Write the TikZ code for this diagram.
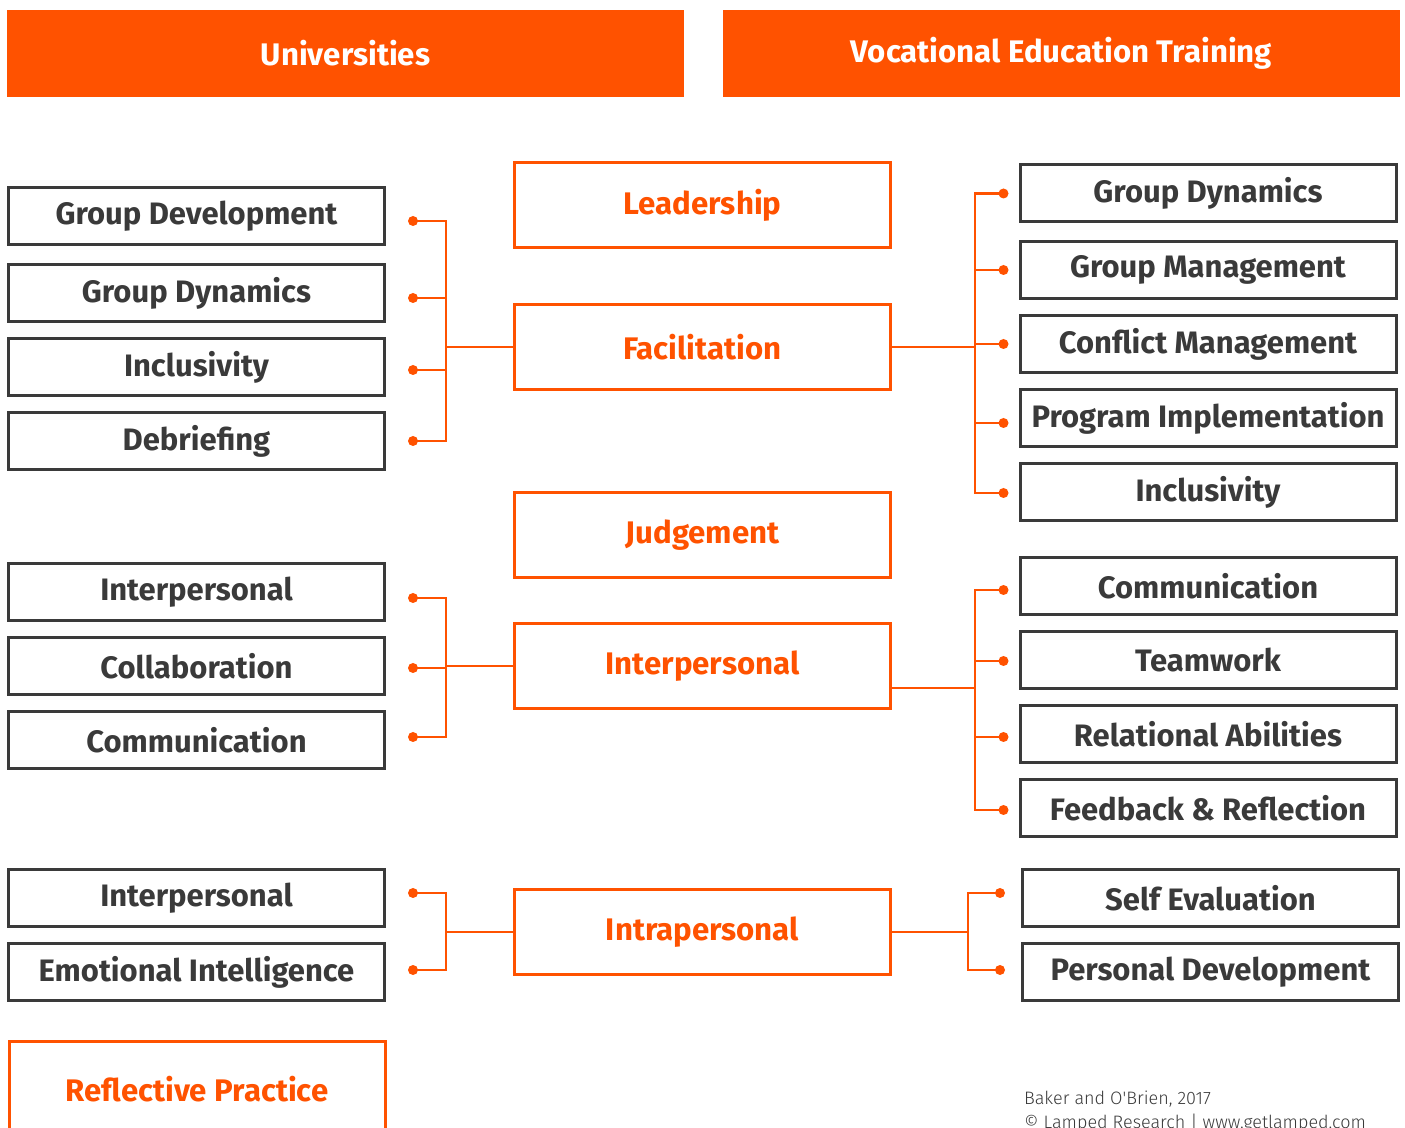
\documentclass[tikz,border=0pt]{standalone}
\usepackage{fontspec}
\setmainfont{Fira Sans}
\newfontfamily\ligera{Fira Sans Light}
\usepackage{tikz}
\definecolor{naranja}{HTML}{FF5200}
\definecolor{gris}{HTML}{3A3A3A}

\begin{document}
\begin{tikzpicture}[x=0.5pt, y=-0.5pt,
  cabecera/.style={fill=naranja, text=white, minimum width=338.5pt, minimum height=43.5pt,
    font=\bfseries\fontsize{15.6}{18}\selectfont},
  caja/.style={draw=gris, line width=1.5pt, text=gris, minimum width=188pt, minimum height=28.5pt,
    font=\bfseries\fontsize{15.5}{18}\selectfont},
  centro/.style={draw=naranja, line width=1.5pt, text=naranja, minimum width=188pt, minimum height=42.5pt,
    font=\bfseries\fontsize{15.6}{18}\selectfont},
  linea/.style={draw=naranja, line width=1.2pt},
  punto/.style={fill=naranja}]

  % Marco
  \useasboundingbox (0,0) rectangle (1405,1128);
  \clip (0,0) rectangle (1405,1128);

  % Cabeceras
  \node[cabecera] (univ) at (345.5,53.5) {Universities};
  \node[cabecera] (vet) at (1061.5,53.5) {Vocational Education Training};

  % Columna central
  \node[centro] (lider) at (702.5,205.5) {Leadership};
  \node[centro] (facil) at (702.5,347) {Facilitation};
  \node[centro] (juicio) at (702.5,535) {Judgement};
  \node[centro] (inter) at (702.5,666) {Interpersonal};
  \node[centro] (intra) at (702.5,932) {Intrapersonal};

  % Universidades
  \node[caja] (u1) at (196.5,216) {Group Development};
  \node[caja] (u2) at (196.5,293) {Group Dynamics};
  \node[caja] (u3) at (196.5,367) {Inclusivity};
  \node[caja] (u4) at (196.5,441) {Debriefing};
  \node[caja] (u5) at (196.5,592) {Interpersonal};
  \node[caja] (u6) at (196.5,666) {Collaboration};
  \node[caja] (u7) at (196.5,740) {Communication};
  \node[caja] (u8) at (196.5,898) {Interpersonal};
  \node[caja] (u9) at (196.5,972) {Emotional Intelligence};
  \node[centro, minimum height=48pt] (refl) at (197,1089) {Reflective Practice};

  % Formacion profesional
  \node[caja] (v1) at (1208,193.5) {Group Dynamics};
  \node[caja] (v2) at (1208,270) {Group Management};
  \node[caja] (v3) at (1208,344) {Conflict Management};
  \node[caja] (v4) at (1208,418) {Program Implementation};
  \node[caja] (v5) at (1208,492) {Inclusivity};
  \node[caja] (v6) at (1208,586) {Communication};
  \node[caja] (v7) at (1208,660) {Teamwork};
  \node[caja] (v8) at (1208,734) {Relational Abilities};
  \node[caja] (v9) at (1208,808) {Feedback \& Reflection};
  \node[caja] (v10) at (1210.5,898) {Self Evaluation};
  \node[caja] (v11) at (1210.5,972) {Personal Development};

  % Puntos de los conectores
  \foreach \n/\dy in {1/-2.5,2/-2.5,3/-1.5,4/0,5/-3,6/-1,7/1.5,8/2.5,9/1}
    \coordinate (pu\n) at ([xshift=13.5pt, yshift=\dy pt]u\n.east);
  \foreach \n/\dy in {1/0,2/0,3/0,4/-2.5,5/-0.5,6/-2,7/-0.5,8/-1.5,9/-1}
    \coordinate (pv\n) at ([xshift=-7.5pt, yshift=\dy pt]v\n.west);
  \coordinate (pv10) at ([xshift=-10.5pt, yshift=2.5pt]v10.west);
  \coordinate (pv11) at ([xshift=-10.5pt, yshift=1pt]v11.west);

  % Conectores izquierda
  \draw[linea] (facil.west) -- ++(-67,0) coordinate (j1);
  \draw[linea] (inter.west) -- ++(-67,0) coordinate (j2);
  \draw[linea] (intra.west) -- ++(-67,0) coordinate (j3);
  \foreach \n in {1,2,3,4}
    \draw[linea] (pu\n) -| (j1);
  \foreach \n in {5,6,7}
    \draw[linea] (pu\n) -| (j2);
  \foreach \n in {8,9}
    \draw[linea] (pu\n) -| (j3);

  % Conectores derecha
  \draw[linea] (facil.east) -- ++(83,0) coordinate (k1);
  \draw[linea] ([yshift=-11pt]inter.east) -- ++(83,0) coordinate (k2);
  \draw[linea] (intra.east) -- ++(76,0) coordinate (k3);
  \foreach \n in {1,...,5}
    \draw[linea] (pv\n) -| (k1);
  \foreach \n in {6,...,9}
    \draw[linea] (pv\n) -| (k2);
  \foreach \n in {10,11}
    \draw[linea] (pv\n) -| (k3);

  \foreach \p in {pu1,pu2,pu3,pu4,pu5,pu6,pu7,pu8,pu9,pv1,pv2,pv3,pv4,pv5,pv6,pv7,pv8,pv9,pv10,pv11}
    \fill[punto] (\p) circle (2.5pt);

  % Fuente
  \node[anchor=west, text=gris, font=\ligera\fontsize{9}{11}\selectfont] (cita) at (1017,1099) {Baker and O'Brien, 2017};
  \node[anchor=west, text=gris, font=\ligera\fontsize{9}{11}\selectfont] (web) at (1017,1123) {\textcopyright{} Lamped Research | www.getlamped.com};
\end{tikzpicture}
\end{document}
